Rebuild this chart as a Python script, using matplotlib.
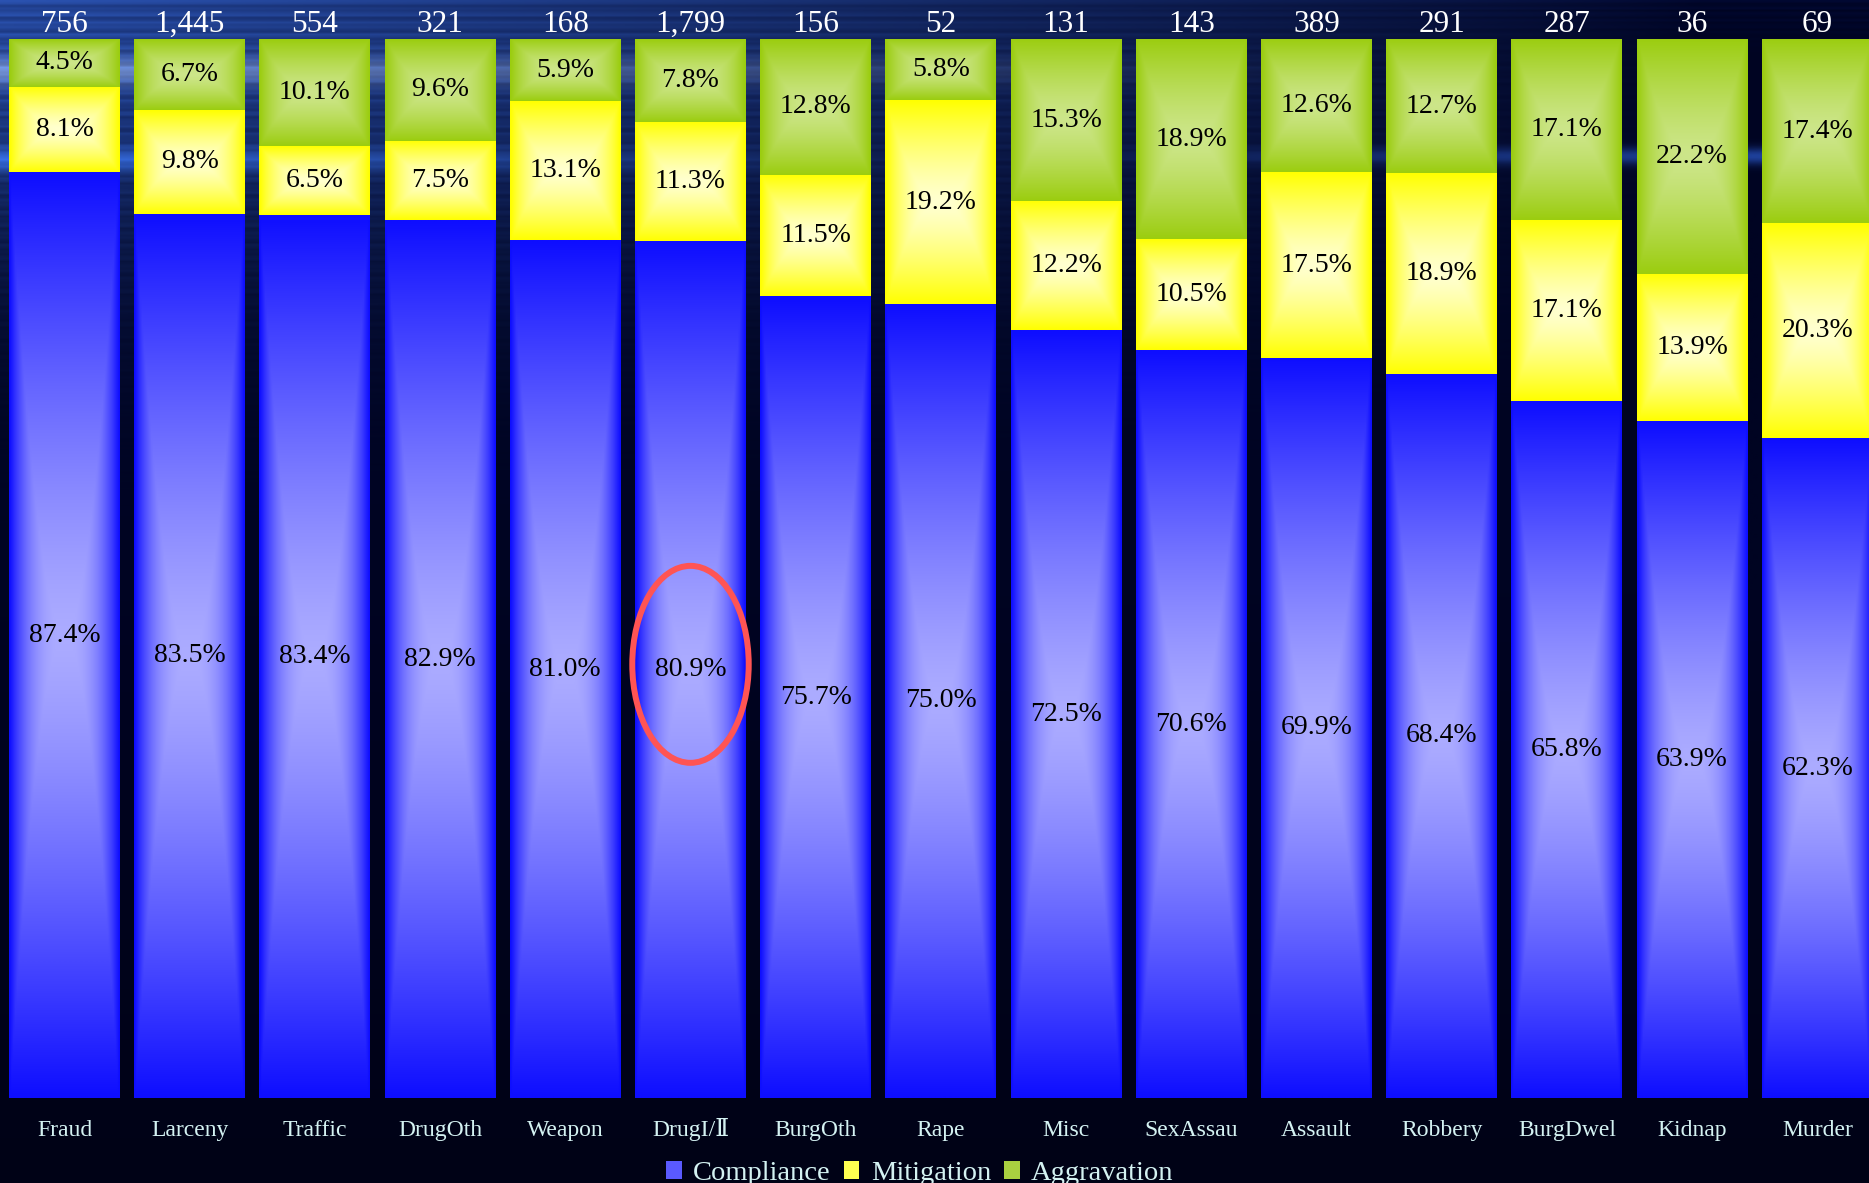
import numpy as np
import matplotlib
matplotlib.use("Agg")
import matplotlib.pyplot as plt
from matplotlib.patches import Ellipse, Patch

plt.rcParams['font.family'] = ['Liberation Serif', 'DejaVu Serif', 'DejaVu Sans']

# ---------------- data ----------------
categories = ["Fraud", "Larceny", "Traffic", "DrugOth", "Weapon", "DrugI/\u2161",
              "BurgOth", "Rape", "Misc", "SexAssau", "Assault", "Robbery",
              "BurgDwel", "Kidnap", "Murder"]
counts = [756, 1445, 554, 321, 168, 1799, 156, 52, 131, 143, 389, 291, 287, 36, 69]
compliance = [87.4, 83.5, 83.4, 82.9, 81.0, 80.9, 75.7, 75.0, 72.5, 70.6, 69.9, 68.4, 65.8, 63.9, 62.3]
mitigation = [8.1, 9.8, 6.5, 7.5, 13.1, 11.3, 11.5, 19.2, 12.2, 10.5, 17.5, 18.9, 17.1, 13.9, 20.3]
aggravation = [4.5, 6.7, 10.1, 9.6, 5.9, 7.8, 12.8, 5.8, 15.3, 18.9, 12.6, 12.7, 17.1, 22.2, 17.4]
series_names = ["Compliance", "Mitigation", "Aggravation"]
highlight = "DrugI/\u2161"

W, H, DPI = 1869, 1183, 100
fig = plt.figure(figsize=(W / DPI, H / DPI), dpi=DPI)

# ---------------- background ----------------
bg = fig.add_axes([0, 0, 1, 1], zorder=0)
bg.set_axis_off()
ny, nx = 500, 700
yy, xx = np.mgrid[0:ny, 0:nx]
yf = (yy + 0.5) / ny
xf = (xx + 0.5) / nx
img = np.ones((ny, nx, 3)) * (np.array([0, 4, 34]) / 255.0)
lf = np.clip(1 - 1.1 * xf, 0, 1) ** 0.9
glow = np.exp(-(yf / 0.2) ** 2) * lf
tex = 1 + 0.25 * np.sin(yf * 900) * np.sin(yf * 230 + 1.3)
img += (glow * tex)[..., None] * (np.array([36, 66, 120]) / 255.0)
# horizon streaks
s1 = np.exp(-((yf - 0.06) / 0.012) ** 2) * np.clip(1 - 1.4 * xf, 0, 1)
img += s1[..., None] * (np.array([80, 80, 70]) / 255.0)
s2 = np.exp(-((yf - 0.132) / 0.007) ** 2) * np.clip((xf - 0.55) / 0.45, 0, 1)
img += s2[..., None] * (np.array([35, 70, 140]) / 255.0)
s3 = np.exp(-((yf - 0.135) / 0.01) ** 2) * np.clip(1 - 2.0 * xf, 0, 1)
img += s3[..., None] * (np.array([30, 60, 110]) / 255.0)
# faint top-right texture
tr = np.exp(-(yf / 0.03) ** 2) * np.clip((xf - 0.5) / 0.5, 0, 1)
img += (tr * (0.5 + 0.5 * np.sin(yf * 1200)))[..., None] * (np.array([2, 5, 18]) / 255.0)
# darker bottom
img *= (1 - 0.35 * np.clip((yf - 0.5) / 0.5, 0, 1))[..., None]
bg.imshow(np.clip(img, 0, 1), extent=(0, 1, 0, 1), aspect='auto', origin='upper',
          interpolation='bilinear')
bg.set_xlim(0, 1)
bg.set_ylim(0, 1)

# ---------------- main axes ----------------
ax = fig.add_axes([0, 85 / H, 1, 1059 / H], zorder=1)
ax.patch.set_alpha(0)

x = np.arange(len(categories))
pitch_px = 125.2
first_px = 64.5
bar_w = 111 / pitch_px

comp = np.array(compliance)
miti = np.array(mitigation)
aggr = np.array(aggravation)

edges = [np.array([14, 14, 255]) / 255.0, np.array([255, 255, 0]) / 255.0,
         np.array([155, 205, 15]) / 255.0]
centers = [np.array([172, 172, 255]) / 255.0, np.array([255, 255, 208]) / 255.0,
           np.array([205, 230, 138]) / 255.0]
legend_cols = ['#5a5aff', '#ffff50', '#a9d040']


def grad_img(edge, center, ny=200, nx=60, a=2.5, b=1.3):
    u = np.abs(np.linspace(-1, 1, nx))
    v = np.abs(np.linspace(-1, 1, ny))
    U, V = np.meshgrid(u, v)
    t = np.maximum(U ** a, V ** b)
    light = 1 - t
    return np.clip(edge + (center - edge) * light[..., None], 0, 1)


bottoms = [np.zeros(len(x)), comp, comp + miti]
vals = [comp, miti, aggr]
for k in range(3):
    bars = ax.bar(x, vals[k], bottom=bottoms[k], width=bar_w, color=legend_cols[k],
                  linewidth=0, zorder=2)
    g = grad_img(edges[k], centers[k])
    for p in bars:
        x0, y0 = p.get_xy()
        w, h = p.get_width(), p.get_height()
        im = ax.imshow(g, extent=(x0, x0 + w, y0, y0 + h), aspect='auto',
                       origin='upper', interpolation='bilinear', zorder=2.5)
        im.set_clip_path(p)
    for i in range(len(x)):
        ax.text(x[i], bottoms[k][i] + vals[k][i] / 2, f"{vals[k][i]:.1f}%",
                ha='center', va='center', fontsize=20, color='black', zorder=4)

# counts on top
for i in range(len(x)):
    ax.annotate(f"{counts[i]:,}", xy=(x[i], 100), xytext=(0, 5.0),
                textcoords='offset points', ha='center', va='baseline',
                fontsize=22.5, color='white', zorder=4, annotation_clip=False)

# highlight ellipse
hi = categories.index(highlight)
ax.add_patch(Ellipse((x[hi], comp[hi] / 2 + 0.5), width=0.93, height=18.6,
                     fill=False, edgecolor='#ff5454', linewidth=4.3, zorder=5))

ax.set_xlim(-first_px / pitch_px, (W - first_px) / pitch_px)
ax.set_ylim(0, 100)
ax.set_xticks(x)
ax.set_xticklabels(categories)
ax.tick_params(axis='x', length=0, pad=27.4, labelsize=17, labelcolor='#d4f2f2')
for t in ax.get_xticklabels():
    t.set_verticalalignment('baseline')
ax.set_yticks([])
for s in ax.spines.values():
    s.set_visible(False)

handles = [Patch(facecolor=legend_cols[k], edgecolor='none') for k in range(3)]
leg = fig.legend(handles, series_names, loc='center', ncol=3, frameon=False,
                 bbox_to_anchor=(920 / W, 1 - 1173.5 / H), fontsize=20.5,
                 handlelength=0.54, handleheight=0.62, handletextpad=0.4,
                 columnspacing=0.47, borderpad=0, borderaxespad=0)
for t in leg.get_texts():
    t.set_color('#d4f2f2')

fig.savefig("out.png", dpi=DPI)
